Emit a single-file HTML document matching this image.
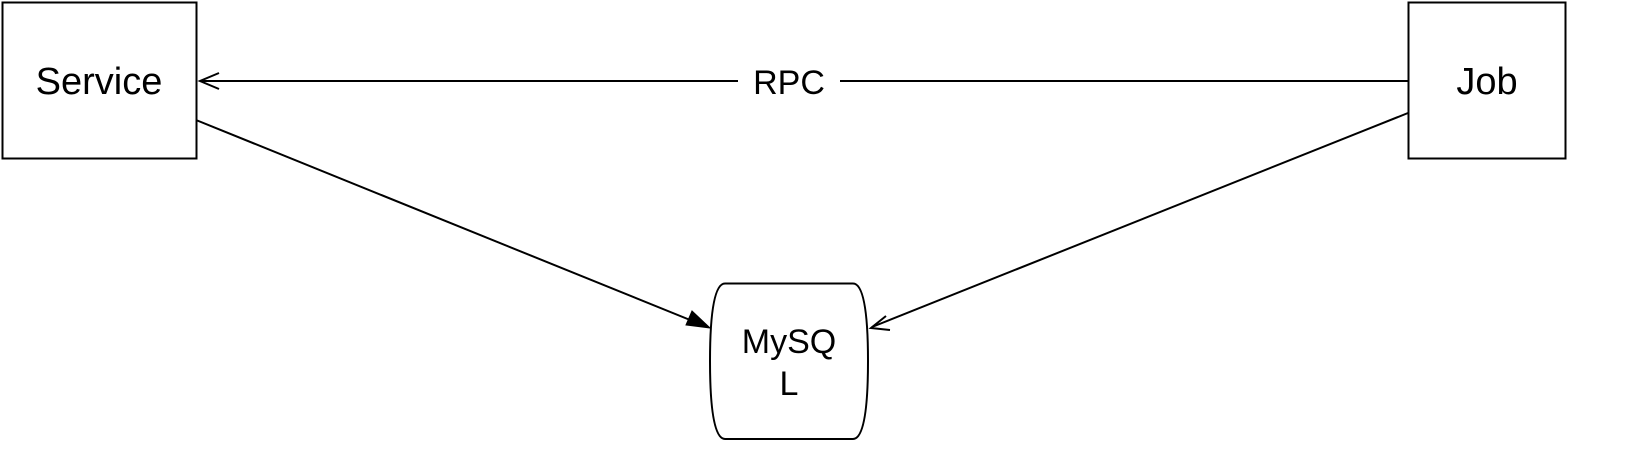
<!DOCTYPE html>
<html><head><style>body{margin:0;background:#fff}svg{display:block}</style></head>
<body>
<svg width="1645" height="465" xmlns="http://www.w3.org/2000/svg" font-family="Liberation Sans, Arial, sans-serif">
<rect width="1645" height="465" fill="#fff"/>
<rect x="2.5" y="2.5" width="194" height="156" fill="#fff" stroke="#000" stroke-width="2"/>
<text x="99" y="94" font-size="38" text-anchor="middle">Service</text>
<rect x="1408.5" y="2.5" width="157" height="156" fill="#fff" stroke="#000" stroke-width="2"/>
<text x="1487" y="94" font-size="38" text-anchor="middle">Job</text>
<path d="M725 283.5 L853 283.5 Q868 283.5 868 361 Q868 439 853 439 L725 439 Q710 439 710 361 Q710 283.5 725 283.5 Z" fill="#fff" stroke="#000" stroke-width="2"/>
<text x="789" y="353" font-size="34" text-anchor="middle">MySQ</text>
<text x="789" y="395" font-size="34" text-anchor="middle">L</text>
<g stroke="#000" stroke-width="2" fill="none">
<line x1="1408" y1="81" x2="840" y2="81"/>
<line x1="738" y1="81" x2="200" y2="81"/>
<polyline points="219,73 200,81 219,89"/>
<line x1="196" y1="120" x2="700" y2="324"/>
<line x1="1408" y1="113" x2="872" y2="327"/>
<polyline points="886,316 871,328 890,330"/>
</g>
<polygon points="710,328 686,325 692,311" fill="#000" stroke="#000" stroke-width="1"/>
<text x="789" y="94" font-size="34" text-anchor="middle">RPC</text>
</svg>
</body></html>
